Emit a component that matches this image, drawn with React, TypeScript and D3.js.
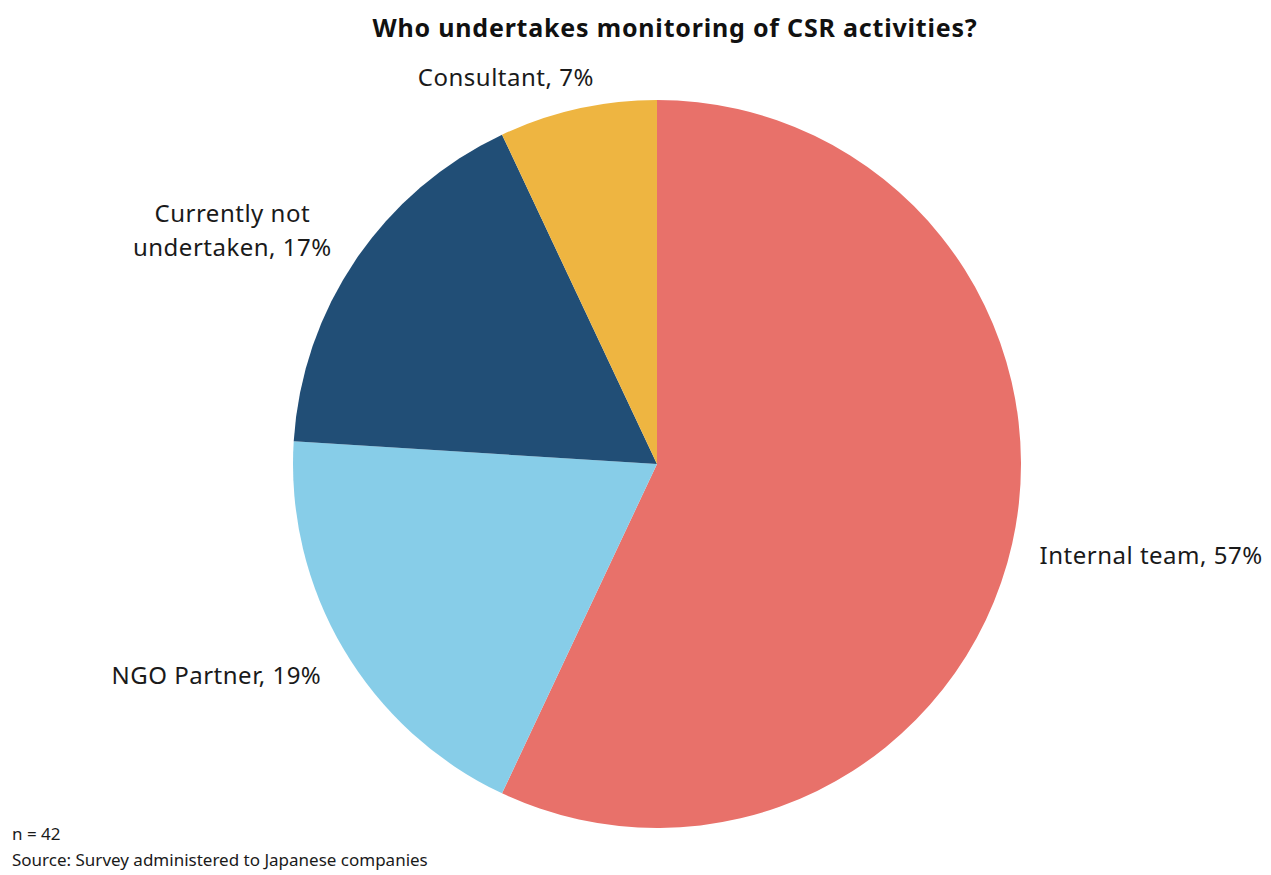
import React from "react";
import * as d3 from "d3";

const categories = ["Internal team", "NGO Partner", "Currently not undertaken", "Consultant"];
const values = [57, 19, 17, 7];
const colors = ["#E8716A", "#87CDE8", "#214E76", "#EEB541"];
const labelLines = [["Internal team, 57%"], ["NGO Partner, 19%"], ["Currently not", "undertaken, 17%"], ["Consultant, 7%"]];

const W = 1271, H = 875;
const cx = 657, cy = 464, R = 364;

export default function App() {
  const pie = d3.pie<number>().sort(null).value(d => d)(values);
  const arc = d3.arc<d3.PieArcDatum<number>>().innerRadius(0).outerRadius(R);
  const font = "'Noto Sans', 'Open Sans', sans-serif";
  const labelCfg = [
    { r: 390, anchor: "start", dx: 2, dy: 15 },
    { r: 390, anchor: "end", dx: 0, dy: 21 },
    { r: 395, anchor: "middle", dx: -98, dy: -20 },
    { r: 395, anchor: "middle", dx: -65, dy: 7 },
  ];
  return (
    <svg width={W} height={H} style={{ position: "absolute", left: 0, top: 0, background: "#fff" }} fontFamily={font}>
      <text x={675} y={37} textAnchor="middle" fontWeight="bold" fontSize={25} letterSpacing={0.8} fill="#111">
        Who undertakes monitoring of CSR activities?
      </text>
      <g transform={`translate(${cx},${cy})`}>
        {pie.map((p, i) => (
          <path key={categories[i]} d={arc(p) || ""} fill={colors[i]} />
        ))}
        {pie.map((p, i) => {
          const a = (p.startAngle + p.endAngle) / 2;
          const c = labelCfg[i];
          const x = c.r * Math.sin(a) + c.dx;
          const y = -c.r * Math.cos(a) + c.dy;
          return (
            <text key={"l" + i} x={x} y={y} textAnchor={c.anchor} fontSize={24} letterSpacing={0.5} fill="#1a1a1a">
              {labelLines[i].map((t, j) => (
                <tspan key={j} x={x} dy={j === 0 ? 0 : 34}>{t}</tspan>
              ))}
            </text>
          );
        })}
      </g>
      <text x={12} y={840} fontSize={17} fill="#1a1a1a">n = 42</text>
      <text x={12} y={866} fontSize={17} fill="#1a1a1a">Source: Survey administered to Japanese companies</text>
    </svg>
  );
}
